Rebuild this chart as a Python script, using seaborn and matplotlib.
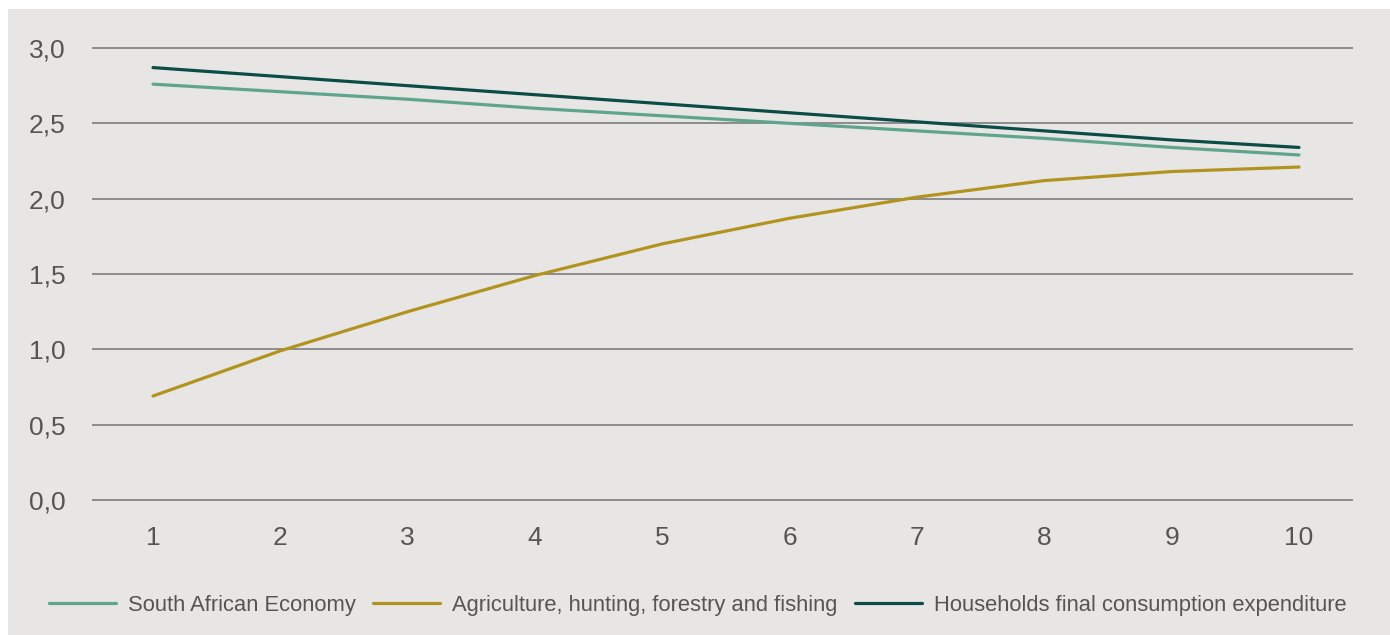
import numpy as np
import pandas as pd
import matplotlib
matplotlib.use("Agg")
import matplotlib.pyplot as plt
import seaborn as sns
from matplotlib.patches import Rectangle

# ---- data ----
years = [1, 2, 3, 4, 5, 6, 7, 8, 9, 10]
sa_economy = [2.76, 2.71, 2.66, 2.60, 2.55, 2.50, 2.45, 2.40, 2.34, 2.29]
agriculture = [0.69, 0.99, 1.25, 1.49, 1.70, 1.87, 2.01, 2.12, 2.18, 2.21]
households = [2.87, 2.81, 2.75, 2.69, 2.63, 2.57, 2.51, 2.45, 2.39, 2.34]
series_names = ["South African Economy",
                "Agriculture, hunting, forestry and fishing",
                "Households final consumption expenditure"]
y_ticks = [0.0, 0.5, 1.0, 1.5, 2.0, 2.5, 3.0]
y_tick_labels = ["0,0", "0,5", "1,0", "1,5", "2,0", "2,5", "3,0"]

colors = ["#5fa58e", "#b3931f", "#0b4d46"]

df = pd.DataFrame({
    "x": years * 3,
    "value": sa_economy + agriculture + households,
    "series": [series_names[0]] * 10 + [series_names[1]] * 10 + [series_names[2]] * 10,
})

sns.set_theme(style="white")
plt.rcParams['font.family'] = ['Liberation Sans', 'DejaVu Sans']

W, H = 1390, 635
bg = "#e7e6e4"
fig = plt.figure(figsize=(W / 100, H / 100), dpi=100)
fig.patch.set_facecolor(bg)
# white strips at the top and left edge
fig.patches.append(Rectangle((0, 1 - 9 / H), 1, 9 / H, transform=fig.transFigure,
                             facecolor="white", edgecolor="none", zorder=-10))
fig.patches.append(Rectangle((0, 0), 8 / W, 1, transform=fig.transFigure,
                             facecolor="white", edgecolor="none", zorder=-10))

ax_left, ax_right = 92 / W, 1353 / W
ax_top, ax_bottom = 1 - 46 / H, 1 - 502 / H
ax = fig.add_axes([ax_left, ax_bottom, ax_right - ax_left, ax_top - ax_bottom])
ax.set_facecolor("none")

sns.lineplot(data=df, x="x", y="value", hue="series", hue_order=series_names,
             palette=colors, linewidth=2.3, ax=ax, legend=False)

x0 = 1 - 61 / 127.3
x1 = 10 + 54 / 127.3
ax.set_xlim(x0, x1)
per = 452 / 3.0
ax.set_ylim(-2 / per, 3.0 + 2 / per)

ax.set_yticks(y_ticks)
ax.set_yticklabels(y_tick_labels)
ax.set_xticks(years)
ax.set_xticklabels([str(v) for v in years])
ax.yaxis.grid(True, color="#8c8c8c", linewidth=1.4)
ax.xaxis.grid(False)
for s in ax.spines.values():
    s.set_visible(False)
ax.tick_params(axis="both", length=0, labelsize=19, labelcolor="#555555")
ax.tick_params(axis="y", pad=19)
ax.tick_params(axis="x", pad=17)
ax.set_xlabel("")
ax.set_ylabel("")

handles = [plt.Line2D([], [], color=c, linewidth=2.3) for c in colors]
fig.legend(handles, series_names, loc="center",
           bbox_to_anchor=(698 / W, 1 - 605 / H), ncol=3, frameon=False,
           fontsize=15.8, handlelength=3.05, handletextpad=0.55,
           columnspacing=0.8, labelcolor="#555555")

fig.savefig("out.png", dpi=100, facecolor=fig.get_facecolor())
